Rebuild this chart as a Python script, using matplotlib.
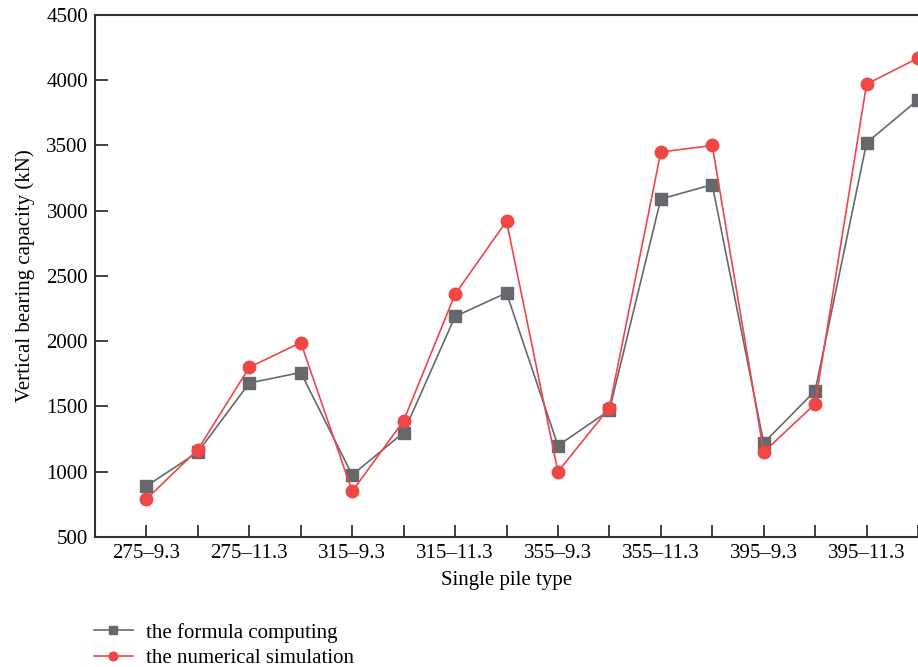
import matplotlib
matplotlib.use("Agg")
import matplotlib.pyplot as plt
import numpy as np

pile_labels = ["275\u20139.3", "275\u201311.3", "315\u20139.3", "315\u201311.3",
               "355\u20139.3", "355\u201311.3", "395\u20139.3", "395\u201311.3"]
formula_values = [890, 1150, 1680, 1760, 975, 1300, 2190, 2370,
                  1200, 1470, 3090, 3200, 1220, 1620, 3520, 3850]
simulation_values = [790, 1170, 1800, 1990, 850, 1390, 2360, 2920,
                     1000, 1490, 3450, 3500, 1150, 1520, 3970, 4170]

plt.rcParams['font.family'] = ['Liberation Serif', 'DejaVu Serif']

fig = plt.figure(figsize=(9.18, 6.67), dpi=100)
ax = fig.add_axes([0.1035, 0.195, 0.8965, 0.7825])

x = np.arange(len(formula_values))
gray = '#67686b'
red = '#ef4646'
ax.plot(x, formula_values, color=gray, lw=1.2, marker='s', ms=8,
        label='the formula computing', clip_on=False, zorder=3)
ax.plot(x, simulation_values, color=red, lw=1.2, marker='o', ms=9,
        label='the numerical simulation', clip_on=False, zorder=4)

ax.set_xlim(-1, 15)
ax.set_ylim(500, 4500)
ax.set_yticks(np.arange(500, 4501, 500))
ax.set_xticks(x)
ax.set_xticklabels([pile_labels[i // 2] if i % 2 == 0 else '' for i in x])
ax.tick_params(direction='in', length=9, width=1.3, color='#333333',
               labelsize=15, pad=5)
for s in ax.spines.values():
    s.set_linewidth(1.5)
    s.set_color('#333333')
ax.spines['right'].set_visible(False)

ax.set_xlabel('Single pile type', fontsize=15, labelpad=6)
ax.set_ylabel('Vertical bearing capacity (kN)', fontsize=15, labelpad=8)

fig.legend(loc='upper left', bbox_to_anchor=(0.093, 0.079),
           frameon=False, fontsize=15, handlelength=1.9,
           handletextpad=0.6, labelspacing=0.3, markerscale=0.7,
           borderaxespad=0)

fig.savefig('out.png', dpi=100)
